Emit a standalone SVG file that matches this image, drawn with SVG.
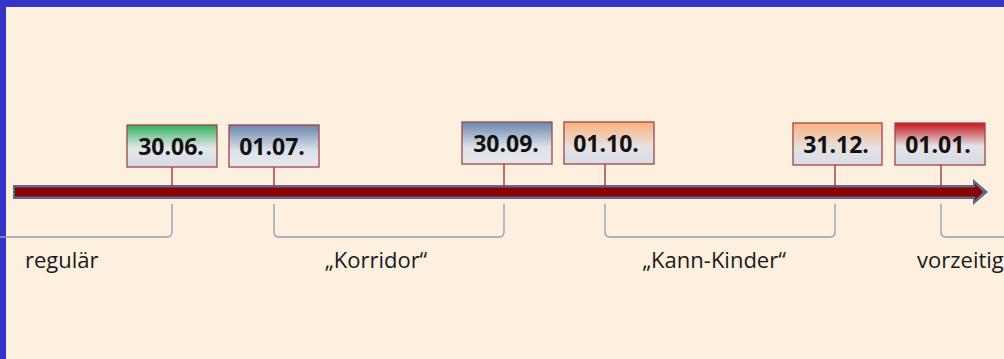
<svg xmlns="http://www.w3.org/2000/svg" width="1004" height="359" viewBox="0 0 1004 359">
  <defs>
    <linearGradient id="gGreen" x1="0" y1="0" x2="0" y2="1">
      <stop offset="0" stop-color="#2fb35a"/>
      <stop offset="0.55" stop-color="#e4e6ea"/>
      <stop offset="1" stop-color="#d6dae2"/>
    </linearGradient>
    <linearGradient id="gBlue" x1="0" y1="0" x2="0" y2="1">
      <stop offset="0" stop-color="#6a86ad"/>
      <stop offset="0.6" stop-color="#dde1e8"/>
      <stop offset="1" stop-color="#e6e8ec"/>
    </linearGradient>
    <linearGradient id="gOrange" x1="0" y1="0" x2="0" y2="1">
      <stop offset="0" stop-color="#fbb27a"/>
      <stop offset="0.6" stop-color="#e4e2e4"/>
      <stop offset="1" stop-color="#d8dce4"/>
    </linearGradient>
    <linearGradient id="gRed" x1="0" y1="0" x2="0" y2="1">
      <stop offset="0" stop-color="#c4161c"/>
      <stop offset="0.55" stop-color="#e4e4e8"/>
      <stop offset="1" stop-color="#d6dae2"/>
    </linearGradient>
    <style>
      .box { stroke: #a3434a; stroke-width: 1.3; }
      .date { font-family: "Open Sans", "Liberation Sans", Arial, sans-serif; font-weight: bold; font-size: 23px; fill: #111111; text-anchor: middle; }
      .tick { stroke: #a3343c; stroke-width: 1.4; fill: none; }
      .brace { stroke: #8d9db5; stroke-width: 1.3; fill: none; }
      .lbl { font-family: "Open Sans", "Liberation Sans", Arial, sans-serif; font-size: 22px; fill: #1a1a1a; }
    </style>
  </defs>

  <rect x="0" y="0" width="1004" height="359" fill="#fdf0df"/>
  <rect x="0" y="0" width="1004" height="7" fill="#3434c8"/>
  <rect x="0" y="0" width="6" height="359" fill="#3434c8"/>

  <g id="timeline">
    <path d="M13,185 L973,185 L973,179 L988,192 L973,205 L973,199 L13,199 Z" fill="#5b6b88"/>
    <path d="M15,187.5 L975,187.5 L975,184 L983,192 L975,200 L975,196.5 L15,196.5 Z" fill="#8b0000"/>
  </g>

  <g id="connectors">
    <line class="tick" x1="172" y1="167" x2="172" y2="187"/>
    <line class="tick" x1="274" y1="167" x2="274" y2="187"/>
    <line class="tick" x1="504" y1="164" x2="504" y2="187"/>
    <line class="tick" x1="605" y1="164" x2="605" y2="187"/>
    <line class="tick" x1="835" y1="165" x2="835" y2="187"/>
    <line class="tick" x1="941" y1="165" x2="941" y2="187"/>
    <path class="brace" d="M172,204 L172,232 Q172,237 167,237 L0,237"/>
    <path class="brace" d="M274,204 L274,232 Q274,237 279,237 L499,237 Q504,237 504,232 L504,204"/>
    <path class="brace" d="M605,204 L605,232 Q605,237 610,237 L830,237 Q835,237 835,232 L835,204"/>
    <path class="brace" d="M941,204 L941,232 Q941,237 946,237 L1004,237"/>
  </g>

  <g id="n3006">
    <rect class="box" x="127" y="125" width="90" height="42" fill="url(#gGreen)"/>
    <text class="date" x="171" y="155">30.06.</text>
  </g>
  <g id="n0107">
    <rect class="box" x="229" y="125" width="90" height="42" fill="url(#gBlue)"/>
    <text class="date" x="272" y="155">01.07.</text>
  </g>
  <g id="n3009">
    <rect class="box" x="462" y="122" width="90" height="42" fill="url(#gBlue)"/>
    <text class="date" x="506" y="152">30.09.</text>
  </g>
  <g id="n0110">
    <rect class="box" x="564" y="122" width="90" height="42" fill="url(#gOrange)"/>
    <text class="date" x="606" y="152">01.10.</text>
  </g>
  <g id="n3112">
    <rect class="box" x="793" y="123" width="89" height="42" fill="url(#gOrange)"/>
    <text class="date" x="836" y="153">31.12.</text>
  </g>
  <g id="n0101">
    <rect class="box" x="895" y="123" width="90" height="42" fill="url(#gRed)"/>
    <text class="date" x="938" y="153">01.01.</text>
  </g>

  <g id="labels">
    <text class="lbl" x="25" y="268">regulär</text>
    <text class="lbl" x="376" y="268" text-anchor="middle">„Korridor“</text>
    <text class="lbl" x="714" y="268" text-anchor="middle">„Kann-Kinder“</text>
    <text class="lbl" x="917" y="268">vorzeitig</text>
  </g>
</svg>
